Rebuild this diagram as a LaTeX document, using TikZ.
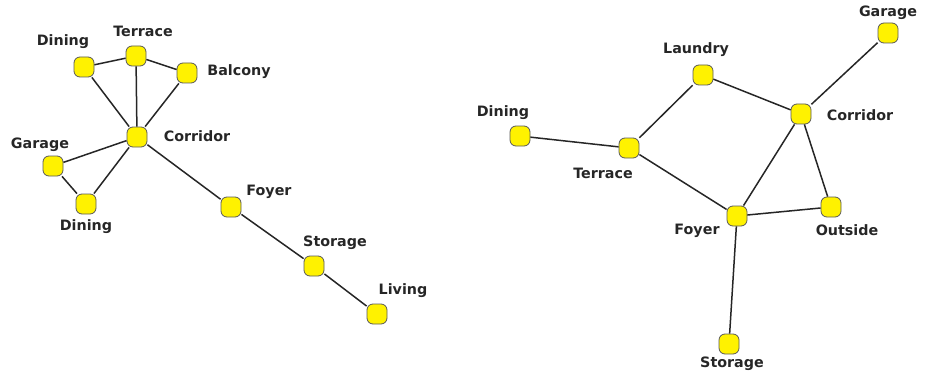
\documentclass[tikz,border=0pt]{standalone}
\usepackage{fontspec}
\setmainfont{DejaVu Sans}
\begin{document}
\begin{tikzpicture}[x=1pt,y=-1pt,
  room/.style={draw=black!65,line width=0.8pt,fill=yellow,rounded corners=6pt,minimum size=20pt,inner sep=0pt},
  lbl/.style={font=\bfseries\fontsize{14.3}{16}\selectfont,text=black!85,inner sep=0pt},
  link/.style={line width=1.5pt,draw=black!85}]
\useasboundingbox (0,0) rectangle (928,377);
% left graph
\node[room] (ldin1) at (84,67) {};
\node[room] (lter) at (136,56) {};
\node[room] (lbal) at (187,73) {};
\node[room] (lcor) at (137,137) {};
\node[room] (lgar) at (53,166) {};
\node[room] (ldin2) at (86,204) {};
\node[room] (lfoy) at (231,207) {};
\node[room] (lsto) at (314,266) {};
\node[room] (lliv) at (377,314) {};
\node[lbl] (tldin1) at (63,42) {Dining};
\node[lbl] (tlter) at (143,31) {Terrace};
\node[lbl] (tlbal) at (239,72) {Balcony};
\node[lbl] (tlcor) at (197,136) {Corridor};
\node[lbl] (tlgar) at (40,145) {Garage};
\node[lbl] (tldin2) at (86,227) {Dining};
\node[lbl] (tlfoy) at (269,192) {Foyer};
\node[lbl] (tlsto) at (335,243) {Storage};
\node[lbl] (tlliv) at (403,291) {Living};
% right graph
\node[room] (rgar) at (888,33) {};
\node[room] (rlau) at (703,75) {};
\node[room] (rdin) at (520,136) {};
\node[room] (rter) at (629,148) {};
\node[room] (rcor) at (801,114) {};
\node[room] (rfoy) at (737,216) {};
\node[room] (rout) at (831,207) {};
\node[room] (rsto) at (729,344) {};
\node[lbl] (trgar) at (888,13) {Garage};
\node[lbl] (trlau) at (696,50) {Laundry};
\node[lbl] (trdin) at (503,113) {Dining};
\node[lbl] (trter) at (603,173) {Terrace};
\node[lbl] (trcor) at (860,115) {Corridor};
\node[lbl] (trfoy) at (697,231) {Foyer};
\node[lbl] (trout) at (847,230) {Outside};
\node[lbl] (trsto) at (732,364) {Storage};
% edges
\draw[link] (ldin1) -- (lter);
\draw[link] (lter) -- (lbal);
\draw[link] (ldin1) -- (lcor);
\draw[link] (lter) -- (lcor);
\draw[link] (lbal) -- (lcor);
\draw[link] (lcor) -- (lgar);
\draw[link] (lcor) -- (ldin2);
\draw[link] (lgar) -- (ldin2);
\draw[link] (lcor) -- (lfoy);
\draw[link] (lfoy) -- (lsto);
\draw[link] (lsto) -- (lliv);
\draw[link] (rdin) -- (rter);
\draw[link] (rter) -- (rlau);
\draw[link] (rlau) -- (rcor);
\draw[link] (rcor) -- (rgar);
\draw[link] (rter) -- (rfoy);
\draw[link] (rcor) -- (rfoy);
\draw[link] (rcor) -- (rout);
\draw[link] (rfoy) -- (rout);
\draw[link] (rfoy) -- (rsto);
\end{tikzpicture}
\end{document}
